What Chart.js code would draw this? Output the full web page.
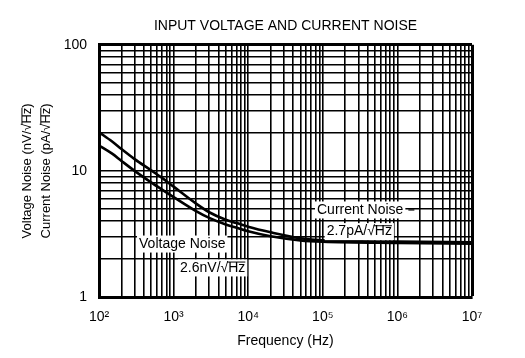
<!DOCTYPE html>
<html><head><meta charset="utf-8">
<script src="https://cdn.jsdelivr.net/npm/chart.js@4"></script>
<style>html,body{margin:0;padding:0;background:#fff;} canvas{display:block;}</style>
</head><body>
<canvas id="c" width="525" height="358"></canvas>
<script>
const frequencies  = [100,150,200,300,500,700,1000,2000,3000,5000,7000,10000,20000,50000,100000,1000000,10000000];
const currentNoise = [20.3,17.1,14.9,12.4,10.1,8.8,7.5,5.5,4.7,4.1,3.86,3.61,3.26,2.92,2.81,2.75,2.72];
const voltageNoise = [15.9,13.7,12.0,10.0,8.1,7.1,6.2,4.8,4.24,3.76,3.54,3.32,3.03,2.81,2.74,2.68,2.65];
const xDecades = [100,1000,10000,100000,1000000,10000000];
const xTickLabels = ['10\u00B2','10\u00B3','10\u2074','10\u2075','10\u2076','10\u2077'];
const yDecades = [1,10,100];
const yTickLabels = ['1','10','100'];
const titleText = 'INPUT VOLTAGE AND CURRENT NOISE';
const xTitle = 'Frequency (Hz)';
const yTitle = ['Voltage Noise (nV/\u221AHz)','Current Noise (pA/\u221AHz)'];
const noteTexts = ['Voltage Noise','2.6nV/\u221AHz','Current Noise','2.7pA/\u221AHz'];
// anchors (data coordinates) for the in-plot notes
const noteAnchors = [
  {f:344, v:2.63},
  {f:1220, v:1.70},
  {f:83600, v:4.90, dash:true},
  {f:112700, v:3.30}
];

const FONT = "'Liberation Sans', Arial, sans-serif";
Chart.defaults.font.family = FONT;
Chart.defaults.font.size = 14;
Chart.defaults.color = '#000';

function logGrid(decades){
  const out = [];
  for (let i=0;i<decades.length-1;i++){
    for (let k=1;k<=9;k++) out.push(k*decades[i]);
  }
  out.push(decades[decades.length-1]);
  return out;
}

function drawOverline(ctx, text, localStart, fontSize, toScreen){
  const idx = text.indexOf('\u221A');
  if (idx < 0) return;
  const a = ctx.measureText(text.slice(0, idx)).width;
  const r = ctx.measureText('\u221A').width;
  let endIdx = text.length;
  if (text.endsWith(')')) endIdx = text.length - 1;
  const b = ctx.measureText(text.slice(0, endIdx)).width;
  const p1 = toScreen(localStart + a + r*0.85, -fontSize*0.42);
  const p2 = toScreen(localStart + b, -fontSize*0.42);
  ctx.beginPath();
  ctx.moveTo(p1[0], p1[1]);
  ctx.lineTo(p2[0], p2[1]);
  ctx.lineWidth = 1;
  ctx.strokeStyle = '#000';
  ctx.stroke();
}

const notesPlugin = {
  id: 'notes',
  afterDatasetsDraw(chart){
    const ctx = chart.ctx;
    const xs = chart.scales.x, ys = chart.scales.y;
    ctx.save();
    ctx.font = '14px ' + FONT;
    ctx.textBaseline = 'middle';
    ctx.textAlign = 'left';
    noteTexts.forEach((t, i) => {
      const an = noteAnchors[i];
      const x = xs.getPixelForValue(an.f);
      const y = ys.getPixelForValue(an.v);
      const w = ctx.measureText(t).width;
      ctx.fillStyle = '#fff';
      ctx.fillRect(x-2, y-8.5, w+4, 17);
      ctx.fillStyle = '#000';
      ctx.fillText(t, x, y);
      drawOverline(ctx, t, 0, 14, (lx, ly) => [x + lx, y + ly]);
      if (an.dash){
        ctx.beginPath();
        ctx.moveTo(x + w + 5, y);
        ctx.lineTo(x + w + 11, y);
        ctx.lineWidth = 1.2;
        ctx.strokeStyle = '#000';
        ctx.stroke();
      }
    });
    ctx.restore();
  },
  afterDraw(chart){
    // overline on the y-axis title radicals
    const ys = chart.scales.y;
    const t = ys.options.title;
    const font = Chart.helpers.toFont(t.font);
    const pad = Chart.helpers.toPadding(t.padding);
    const ctx = chart.ctx;
    ctx.save();
    ctx.font = font.string;
    const x0 = ys.left + font.lineHeight/2 + pad.top;
    const cy = (ys.top + ys.bottom)/2;
    t.text.forEach((line, i) => {
      const cx = x0 + i*font.lineHeight;
      const w = ctx.measureText(line).width;
      drawOverline(ctx, line, -w/2, font.size, (lx, ly) => [cx + ly, cy - lx]);
    });
    ctx.restore();
  }
};

new Chart(document.getElementById('c'), {
  type: 'line',
  data: {
    datasets: [
      { label: 'Current Noise', data: frequencies.map((f,i)=>({x:f, y:currentNoise[i]})),
        borderColor:'#000', borderWidth:2.6, pointRadius:0, cubicInterpolationMode:'monotone', fill:false },
      { label: 'Voltage Noise', data: frequencies.map((f,i)=>({x:f, y:voltageNoise[i]})),
        borderColor:'#000', borderWidth:2.6, pointRadius:0, cubicInterpolationMode:'monotone', fill:false }
    ]
  },
  options: {
    responsive: false,
    devicePixelRatio: 1,
    animation: false,
    layout: { padding: { top: 0, right: 53, bottom: 0, left: 0 } },
    plugins: {
      legend: { display: false },
      tooltip: { enabled: false },
      title: { display: true, fullSize: false, text: titleText, color:'#000', font: { size: 14, weight: 'normal' }, padding: { top: 18, bottom: 10 } }
    },
    scales: {
      x: {
        type: 'logarithmic', min: 100, max: 10000000,
        afterBuildTicks(s){ s.ticks = logGrid(xDecades).map(v => ({value: v})); },
        afterFit(s){ s.height = 61; },
        ticks: { autoSkip: false, maxRotation: 0, padding: 12, font:{size:14},
          callback(v){ const i = xDecades.indexOf(v); return i >= 0 ? xTickLabels[i] : ''; } },
        grid: { color: '#000', drawTicks: false,
          lineWidth: c => (c.tick && c.tick.value === 10000000) ? 3 : 1.6 },
        border: { display: true, color: '#000', width: 3 },
        title: { display: true, text: xTitle, font:{size:14}, padding: { top: 0, bottom: 8 } }
      },
      y: {
        type: 'logarithmic', min: 1, max: 100,
        afterBuildTicks(s){ s.ticks = logGrid(yDecades).map(v => ({value: v})); },
        afterFit(s){ s.width = 99; },
        ticks: { autoSkip: false, padding: 12, font:{size:14},
          callback(v){ const i = yDecades.indexOf(v); return i >= 0 ? yTickLabels[i] : ''; } },
        grid: { color: '#000', drawTicks: false,
          lineWidth: c => (c.tick && c.tick.value === 100) ? 3 : 1.6 },
        border: { display: true, color: '#000', width: 3 },
        title: { display: true, text: yTitle, font:{size:13, lineHeight:1.45}, padding: { top: 18, bottom: 0 } }
      }
    }
  },
  plugins: [notesPlugin]
});
</script>
</body></html>
